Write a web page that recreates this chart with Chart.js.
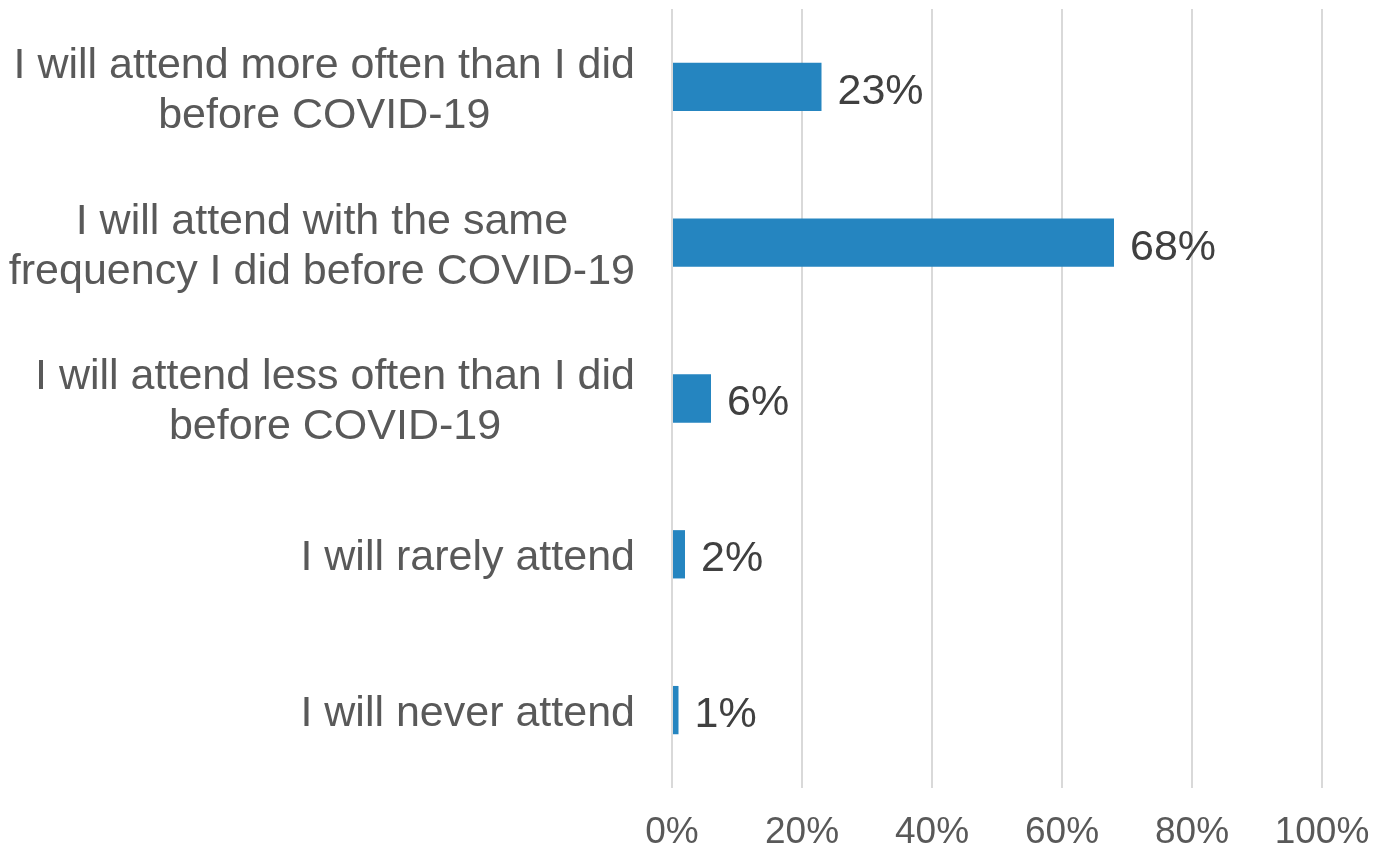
<!DOCTYPE html>
<html>
<head>
<meta charset="utf-8">
<script src="https://cdn.jsdelivr.net/npm/chart.js@4.4.1/dist/chart.umd.min.js"></script>
<style>
  html, body { margin: 0; padding: 0; background: #fff; }
  #wrap { width: 1375px; height: 846px; }
</style>
</head>
<body>
<div id="wrap"><canvas id="chart" width="1375" height="846"></canvas></div>
<script>
// data
const categories = [
    ["I will attend more often than I did", "before COVID-19"],
    ["I will attend with the same", "frequency I did before COVID-19"],
    ["I will attend less often than I did", "before COVID-19"],
    ["I will rarely attend"],
    ["I will never attend"]
];
const shares = [23, 68, 6, 2, 1];
const axisMin = 0;
const axisMax = 100;
const axisStep = 20;

const FONT = "'Liberation Sans', Arial, sans-serif";

// category labels: block right-aligned, lines centred against each other
const categoryLabels = {
    id: "categoryLabels",
    afterDraw(chart) {
        let ctx = chart.ctx;
        let y = chart.scales.y;
        let rightEdge = chart.chartArea.left - 37;
        ctx.save();
        ctx.font = "43px " + FONT;
        ctx.fillStyle = "#595959";
        ctx.textAlign = "center";
        ctx.textBaseline = "middle";
        categories.forEach((lines, i) => {
            let widest = Math.max(...lines.map(l => ctx.measureText(l).width));
            let cx = rightEdge - widest / 2;
            let cy = y.getPixelForTick(i) + 4;
            let lh = 50;
            let top = cy - (lines.length - 1) * lh / 2;
            lines.forEach((l, k) => ctx.fillText(l, cx, top + k * lh));
        });
        ctx.restore();
    }
};

// value labels right of each bar
const valueLabels = {
    id: "valueLabels",
    afterDatasetsDraw(chart) {
        let ctx = chart.ctx;
        let meta = chart.getDatasetMeta(0);
        ctx.save();
        ctx.font = "43px " + FONT;
        ctx.fillStyle = "#404040";
        ctx.textAlign = "left";
        ctx.textBaseline = "middle";
        meta.data.forEach((bar, i) => {
            ctx.fillText(shares[i] + "%", bar.x + 16, bar.y + 5);
        });
        ctx.restore();
    }
};

new Chart(document.getElementById("chart"), {
    type: "bar",
    data: {
        labels: categories.map(c => c.join(" ")),
        datasets: [{
            data: shares,
            backgroundColor: "#2585C0",
            borderWidth: 0,
            categoryPercentage: 1,
            barPercentage: 0.31
        }]
    },
    options: {
        indexAxis: "y",
        responsive: false,
        animation: false,
        layout: { padding: { top: 9, right: 53, left: 0, bottom: 0 } },
        plugins: { legend: { display: false }, tooltip: { enabled: false } },
        scales: {
            x: {
                min: axisMin,
                max: axisMax,
                ticks: {
                    stepSize: axisStep,
                    color: "#595959",
                    font: { family: FONT, size: 37 },
                    padding: 23,
                    callback: v => v + "%"
                },
                grid: { color: "#d9d9d9", lineWidth: 2, drawTicks: false },
                border: { display: false },
                afterFit: s => { s.height = 58; s.paddingLeft = 0; s.paddingRight = 0; }
            },
            y: {
                ticks: { display: false },
                grid: { display: false },
                border: { display: false },
                afterFit: s => { s.width = 672; }
            }
        }
    },
    plugins: [categoryLabels, valueLabels]
});
</script>
</body>
</html>
